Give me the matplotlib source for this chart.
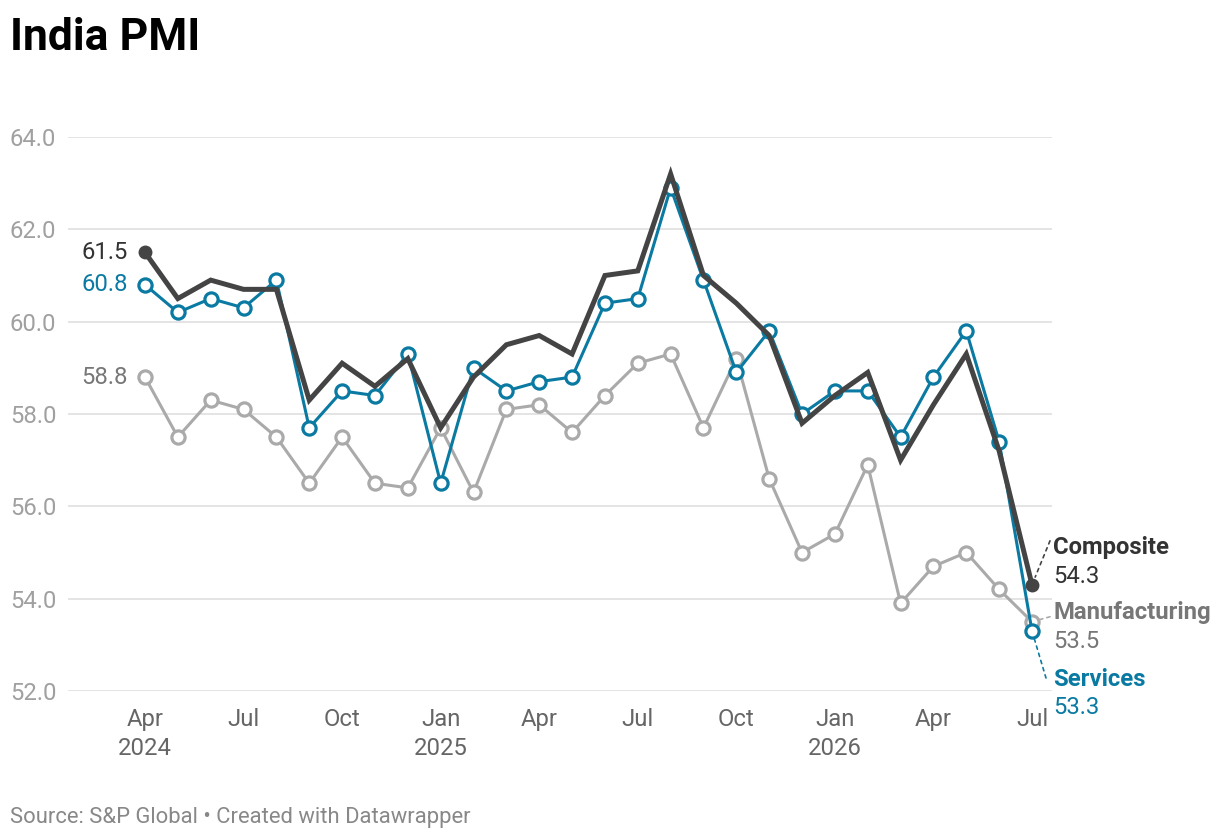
import numpy as np
import matplotlib
matplotlib.use("Agg")
import matplotlib.pyplot as plt

plt.rcParams['font.family'] = ['Roboto', 'DejaVu Sans']

# monthly readings, Apr 2024 .. Jul 2026
months = ['Apr', 'May', 'Jun', 'Jul', 'Aug', 'Sep', 'Oct', 'Nov', 'Dec',
          'Jan', 'Feb', 'Mar', 'Apr', 'May', 'Jun', 'Jul', 'Aug', 'Sep', 'Oct', 'Nov', 'Dec',
          'Jan', 'Feb', 'Mar', 'Apr', 'May', 'Jun', 'Jul']
years = {0: '2024', 9: '2025', 21: '2026'}

composite = [61.5, 60.5, 60.9, 60.7, 60.7, 58.3, 59.1, 58.6, 59.2,
             57.7, 58.8, 59.5, 59.7, 59.3, 61.0, 61.1, 63.2, 61.0, 60.4, 59.7, 57.8,
             58.4, 58.9, 57.0, 58.2, 59.3, 57.2, 54.3]
services = [60.8, 60.2, 60.5, 60.3, 60.9, 57.7, 58.5, 58.4, 59.3,
            56.5, 59.0, 58.5, 58.7, 58.8, 60.4, 60.5, 62.9, 60.9, 58.9, 59.8, 58.0,
            58.5, 58.5, 57.5, 58.8, 59.8, 57.4, 53.3]
manufacturing = [58.8, 57.5, 58.3, 58.1, 57.5, 56.5, 57.5, 56.5, 56.4,
                 57.7, 56.3, 58.1, 58.2, 57.6, 58.4, 59.1, 59.3, 57.7, 59.2, 56.6, 55.0,
                 55.4, 56.9, 53.9, 54.7, 55.0, 54.2, 53.5]

yticks = [52, 54, 56, 58, 60, 62, 64]

C_COMP = '#444444'
C_SERV = '#0a7aa2'
C_MANU = '#aaaaaa'
FS = 17.2

W, H = 1220, 838
fig = plt.figure(figsize=(W / 100, H / 100), dpi=100)
ax = fig.add_axes([68 / W, (H - 691) / H, (1052 - 68) / W, (691 - 137) / H])

x = np.arange(len(months))
step = (1032 - 145) / (len(months) - 1)
ax.set_xlim((68 - 145) / step, (1052 - 145) / step)
ax.set_ylim(52, 64)

ax.plot(x, manufacturing, color=C_MANU, lw=2.2, marker='o', ms=9.5, mew=2.3,
        mfc='white', mec=C_MANU, zorder=3, clip_on=False)
ax.plot(x, services, color=C_SERV, lw=2.2, marker='o', ms=9.5, mew=2.3,
        mfc='white', mec=C_SERV, zorder=4, clip_on=False)
ax.plot(x, composite, color=C_COMP, lw=3.6, zorder=5, clip_on=False,
        solid_joinstyle='miter')
ax.plot([x[0], x[-1]], [composite[0], composite[-1]], 'o', color=C_COMP,
        ms=9, zorder=6, clip_on=False)

# grid / axes
ax.set_yticks(yticks)
ax.set_yticklabels([f'{v:.1f}' for v in yticks], color='#a0a0a0', fontsize=FS)
for lab in ax.get_yticklabels():
    lab.set_horizontalalignment('left')
ax.tick_params(axis='y', length=0, pad=41.8)
ax.grid(axis='y', color='#e2e2e2', lw=1.3)
ax.set_axisbelow(True)
for s in ax.spines.values():
    s.set_visible(False)

xt = x[::3]
ax.set_xticks(xt)
ax.set_xticklabels([months[i] + ('\n' + years[i] if i in years else '') for i in xt],
                   color='#666666', fontsize=FS, linespacing=1.35)
ax.tick_params(axis='x', length=0, pad=12)

# start labels
for vals, col in [(composite, '#333333'), (services, C_SERV), (manufacturing, '#777777')]:
    ax.annotate(f'{vals[0]:.1f}', (x[0], vals[0]), xytext=(-17, 0),
                textcoords='offset pixels', ha='right', va='center',
                color=col, fontsize=FS)

# end labels with dotted leaders
ends = [
    ('Composite', composite, '#333333', C_COMP, 37, 8, (18, 44)),
    ('Manufacturing', manufacturing, '#777777', C_MANU, 9, -20, (18, 5)),
    ('Services', services, C_SERV, C_SERV, -49, -77, (14, -47)),
]
for name, vals, tcol, lcol, dy_name, dy_val, p1 in ends:
    ax.annotate(name, (x[-1], vals[-1]), xytext=(21, dy_name),
                textcoords='offset pixels', ha='left', va='center',
                color=tcol, fontsize=FS, fontweight='bold')
    ax.annotate(f'{vals[-1]:.1f}', (x[-1], vals[-1]), xytext=(21, dy_val),
                textcoords='offset pixels', ha='left', va='center',
                color=tcol, fontsize=FS)
    ax.annotate('', xy=(x[-1], vals[-1]), xytext=p1, textcoords='offset pixels',
                arrowprops=dict(arrowstyle='-', color=lcol, lw=1.2, ls=(0, (2, 2.5)),
                                shrinkA=0, shrinkB=6),
                annotation_clip=False)

fig.text(10 / W, 1 - 50 / H, 'India PMI', fontsize=32, fontweight='bold',
         color='#000000', va='baseline', ha='left')
fig.text(10 / W, 1 - 823 / H, 'Source: S&P Global • Created with Datawrapper',
         fontsize=15.8, color='#888888', va='baseline', ha='left')

fig.savefig('out.png', dpi=100)
